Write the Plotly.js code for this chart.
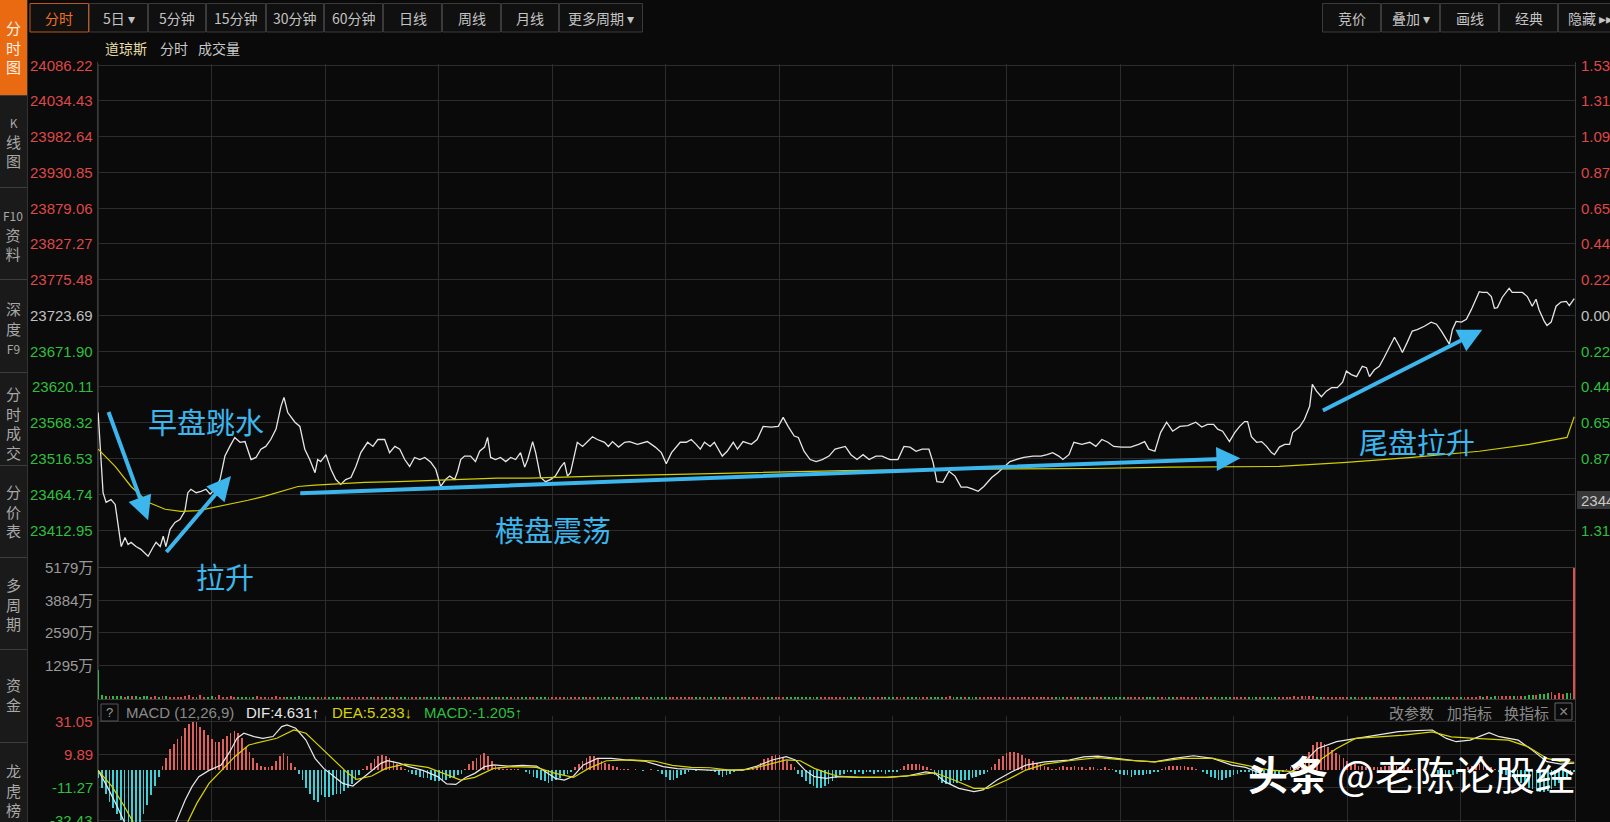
<!DOCTYPE html>
<html><head><meta charset="utf-8">
<script src="https://cdn.plot.ly/plotly-3.0.1.min.js"></script>
<style>html,body{margin:0;padding:0;background:#0a0a0a;overflow:hidden}#chart{width:1610px;height:822px}</style>
</head><body><div id="chart"></div>
<script>
// ---------------- DATA ----------------
const prevClose = 23723.69;
const priceTickText = ['24086.22','24034.43','23982.64','23930.85','23879.06','23827.27','23775.48','23723.69','23671.90','23620.11','23568.32','23516.53','23464.74','23412.95'];
const pctTickText = ['1.53','1.31','1.09','0.87','0.65','0.44','0.22','0.00','0.22','0.44','0.65','0.87','1.09','1.31'];
const volTickVals = [5179,3884,2590,1295];
const volTickText = ['5179万','3884万','2590万','1295万'];
const macdTickVals = [31.05,9.89,-11.27,-32.43];
const macdTickText = ['31.05','9.89','-11.27','-32.43'];
const timeGrid = [0,30,60,90,120,150,180,210,240,270,300,330,360,390];

// minutes after open / index price
const priceT = [0,1.3,2.1,3.4,4.5,5.3,6.1,7.1,7.9,8.7,
10,11.3,13.2,14.5,15.3,16.4,17.2,17.9,19,20.3,
21.6,22.9,23.7,24.5,25.9,27.2,28.5,29.6,30.9,32.2,
33.5,34.8,36.1,37.5,38.8,40.4,41.7,43,44.3,45.6,
47,48.3,49.1,50.1,52,53.3,54.6,55.9,57.3,58,
58.8,60.2,61.5,62.8,64.1,65.4,66.8,68.1,69.4,71.2,
72.6,73.9,75.7,77,78.4,79.7,81,82.3,83.6,85,
86.3,87.9,89.2,90.5,91.8,92.9,94.2,95,95.8,96.8,
98.4,99.7,100.8,102.1,102.9,103.7,105,106.3,107.7,109,
110.3,111.6,112.7,113.5,114.8,115.6,116.9,118.2,119.5,120.8,
122.2,123.2,124,124.8,125.9,126.6,128,129.3,130.6,131.9,
133.8,134.8,135.9,137.5,139.1,140.4,142.5,145.1,147.2,148.8,
150.1,151.5,153.8,155.4,156.7,158,159.1,160.2,161.7,162.8,
164.9,166.2,167.8,168.9,170.4,172.6,174.1,175.7,177.8,179.7,
181,182.3,183.9,185,186.5,188.1,189.7,191.3,193.1,194.7,
197.4,198.9,200.5,202.1,203.7,205.5,207.1,209.2,211.3,212.9,
214.5,216.1,217.7,219.5,220.6,221.6,223.2,224.8,226.4,228,
229.6,231.1,232.5,234,236.1,237.7,239.3,240.9,242.5,244.6,
247,249.1,250.7,252.2,253.8,254.9,256.5,257.8,259.9,262,
263.6,265.2,266.8,268.3,270.4,272.8,274.9,276.5,277.6,279.2,
280.7,282.3,283.9,285.8,287.9,290,291.6,293.1,294.7,295.8,
297.1,298.9,300.3,301.6,302.9,303.7,304.7,306.1,307.4,308.7,
310,310.8,312.1,313.5,314.8,315.6,317.4,318.7,320.1,320.8,
321.9,323.2,324.5,325.9,327.4,328.8,329.8,331.1,332.5,334,
335.1,335.9,337.2,338.5,339.8,341.2,342.5,343.8,344.6,345.9,
347.2,348.5,350.4,352.2,353.6,354.9,356.2,357,357.8,358.8,
360.2,361.5,362.8,364.1,364.9,365.7,367,368.1,368.9,369.7,
371,372.8,373.6,374.9,376.3,377.6,378.9,379.9,380.7,382.1,
382.8,383.9,385.2,386.5,387.9,388.7,390];
const priceV = [23583,23467,23453,23457,23450,23418,23389,23402,23392,23395,
23389,23385,23375,23388,23395,23389,23404,23389,23414,23424,
23428,23440,23467,23472,23467,23469,23472,23465,23472,23486,
23520,23534,23547,23540,23541,23515,23518,23530,23534,23544,
23559,23592,23605,23583,23569,23563,23530,23515,23496,23515,
23512,23522,23501,23486,23479,23486,23489,23505,23525,23540,
23534,23544,23544,23525,23534,23530,23515,23505,23518,23515,
23518,23511,23501,23476,23486,23491,23486,23498,23515,23520,
23520,23512,23527,23533,23547,23518,23515,23518,23512,23518,
23515,23525,23504,23515,23541,23525,23489,23483,23486,23491,
23504,23511,23491,23496,23525,23540,23534,23541,23548,23544,
23540,23534,23541,23533,23540,23541,23537,23541,23533,23525,
23509,23525,23540,23540,23544,23537,23530,23540,23534,23540,
23520,23527,23540,23530,23541,23537,23544,23563,23562,23563,
23576,23563,23549,23547,23527,23515,23512,23515,23520,23530,
23534,23522,23515,23522,23515,23520,23520,23515,23515,23534,
23533,23527,23530,23530,23511,23483,23482,23498,23491,23475,
23475,23472,23469,23476,23489,23496,23504,23512,23515,23518,
23520,23520,23522,23525,23520,23515,23522,23540,23537,23540,
23534,23544,23540,23534,23533,23533,23537,23541,23530,23527,
23554,23569,23556,23563,23564,23569,23562,23566,23566,23559,
23556,23541,23554,23563,23570,23570,23548,23540,23541,23534,
23525,23522,23533,23537,23537,23554,23562,23573,23592,23624,
23614,23606,23614,23619,23619,23627,23643,23638,23635,23650,
23648,23635,23645,23650,23663,23679,23692,23679,23670,23685,
23701,23703,23708,23714,23711,23701,23689,23682,23703,23715,
23714,23718,23732,23747,23758,23757,23757,23751,23734,23735,
23750,23763,23757,23757,23757,23751,23737,23747,23732,23715,
23709,23714,23737,23743,23744,23738,23748];

const avgT = [0,4.5,8.7,13.2,17.7,21.9,26.4,30.9,35.1,39.6,44.1,48.3,52.8,57.3,61.5,70.4,79.2,87.9,96.8,105.5,114.2,123.2,131.9,164.9,197.4,229.6,262,283.4,312.1,329.8,347.2,364.9,378.1,388.1,390];
const avgV = [23530,23505,23476,23453,23443,23440,23441,23446,23450,23456,23462,23469,23476,23478,23479,23482,23483,23485,23486,23488,23488,23489,23491,23495,23499,23501,23502,23504,23505,23511,23518,23527,23537,23547,23577];

// volume per minute (万)
const volume = [1140,150,120,110,130,100,120,90,110,100,
120,90,110,100,80,120,90,100,110,85,
95,90,80,100,150,90,80,170,90,80,
100,80,150,90,80,100,80,90,70,80,
90,70,120,80,70,90,80,100,70,80,
90,70,80,100,70,80,90,70,80,70,
80,70,90,70,80,70,60,80,70,90,
70,80,60,70,80,70,90,60,70,80,
70,60,80,70,60,70,80,60,70,60,
80,70,60,70,80,60,70,80,60,70,
70,60,80,70,60,70,60,80,70,60,
70,60,70,80,60,70,60,70,60,80,
60,70,60,70,80,60,70,60,70,60,
70,60,70,60,80,60,70,60,70,60,
60,70,60,70,60,70,60,80,60,70,
60,70,60,70,60,60,70,60,70,60,
70,60,60,70,60,70,60,70,60,60,
70,60,70,60,80,60,70,60,70,60,
80,70,60,70,60,70,60,70,60,70,
60,70,60,70,60,70,60,70,60,60,
70,60,70,60,60,70,60,70,60,60,
70,60,70,60,70,60,70,60,70,60,
70,80,60,70,60,130,60,70,60,70,
60,70,60,70,60,70,60,70,60,70,
60,70,60,70,60,70,60,70,60,70,
60,70,60,60,70,60,70,60,70,60,
70,60,70,60,70,60,60,70,60,70,
60,70,60,70,60,70,60,70,60,70,
70,60,70,60,70,60,70,60,70,60,
60,70,60,70,60,70,60,70,60,70,
70,60,70,60,70,60,70,80,70,80,
70,80,70,90,80,90,100,90,110,100,
120,100,90,80,90,80,70,80,70,80,
70,80,70,80,70,80,70,80,70,80,
80,70,80,70,80,70,80,70,80,70,
80,70,80,70,80,90,80,90,80,90,
90,80,90,80,90,100,90,100,90,100,
100,110,100,110,120,110,120,130,140,150,
160,180,200,220,280,140,230,210,220,250,
5150];

// MACD histogram per minute
const macdHist = [-5,-11,-15,-20,-24,-28,-32,-35,-37,-38,
-38,-34,-28,-22,-16,-10,-4,3,8,14,
17,20,22,27,30,31,31,28,26,23,
20,18,18,20,22,24,25,24,21,15,
12,8,5,3,2,2,3,6,9,11,
9,5,2,-2,-6,-11,-15,-19,-20,-16,
-17,-17,-16,-15,-15,-13,-11,-9,-6,-3,
1,3,5,7,9,10,9,8,6,4,
2,1,-1,-2,-3,-4,-5,-5,-6,-7,
-7,-6,-6,-5,-4,-3,-2,1,4,6,
8,10,11,9,6,3,2,1,1,1,
1,1,0.5,-1,-2,-4,-5,-6,-7,-8,
-7,-6,-5,-3,-2,-1,2,4,6,8,
9,9,8,6,5,4,3,2,1,1,
1,0.5,1,0.5,-0.5,0.5,1,0.5,-0.5,-2,
-4,-6,-6,-5,-3,-2,-1,0.5,-0.5,0.5,
0.5,-0.5,-0.5,-1,-3,-4,-3,-2,-1,0.5,
-0.5,0.5,0.5,1,3,5,7,8,9,10,
10,8,6,4,2,-2,-4,-7,-9,-10,
-11,-11,-10,-9,-7,-5,-3,-2,-1,-1,
-2,-1,-2,-1,-1,-2,-1,-1,-2,-1,
-1,-1,1,3,4,4,4,4,3,2,
1,-3,-6,-8,-9,-9,-8,-8,-7,-6,
-6,-5,-4,-3,-2,-1,2,4,7,9,
11,12,12,11,10,8,7,6,5,4,
3,2,1,1,2,3,2,2,3,2,
2,1,2,2,1,1,2,1,1,-1,
-2,-3,-3,-4,-3,-3,-3,-2,-2,-1,
-1,1,2,3,3,3,3,3,2,2,
1,0.5,-1,-2,-4,-5,-6,-6,-5,-4,
-3,-2,-1,-1,-1,-2,-3,-4,-4,-4,
-3,-3,-2,-1,1,2,3,4,6,8,
12,16,18,18,17,15,13,11,10,8,
6,5,4,3,3,2,2,2,2,2,
3,3,3,3,2,2,2,1,1,1,
1,1,0.5,-1,-2,-3,-4,-4,-3,-2,
-1,1,2,3,3,4,4,3,2,1,
-1,-2,-3,-4,-5,-7,-8,-9,-11,-12,
-13,-14,-14,-13,-12,-10,-8,-6,-4,-2.5,
-1.2];

const difT = [0,2.4,5,6.9,10,14,17.9,20.6,23,24.8,26.6,29.3,32.5,34.8,36.7,38.5,41.2,43.5,46.2,48.5,49.9,52.2,54.9,57.3,59.6,62.3,64.6,67.3,69.7,72.3,74.7,76.5,79.7,82.1,85.8,89.7,92.1,94.5,97.1,99.5,102.1,104.5,108.2,112.1,115.8,118.2,120.8,123.2,125.6,128.2,131.9,135.6,139.3,144.3,149.3,153,156.7,161.7,166.8,170.4,174.1,178.1,181.8,184.2,186.8,189.2,192.3,195.3,201.1,208.4,213.7,218.7,221.1,223.7,227.4,231.4,233.8,237.5,241.4,245.1,250.1,256.5,260.4,264.1,269.1,274.1,279.2,284.2,289.4,294.5,299.5,303.2,307.1,313.5,317.4,322.2,327.2,332.2,338.5,343.5,348.5,352.5,356.2,358.8,362.5,367.5,370.2,375.2,378.9,382.8,386.5,390];
const difV = [0,-10.4,-23,-33,-44,-47,-40,-33,-19,-10.4,-4,0,3.5,12,20.6,23.8,21.7,20.6,21.7,28.1,29.2,27,19.5,7.7,1.3,-4,-8.3,-10,-5.1,0,4.5,6.2,4.5,2.4,0,-4,-8.7,-9,-4.5,-1.9,2.4,3.5,2.8,3.2,2.8,-0.9,-5.1,-6.2,-3.6,3.5,7.7,7.7,6.7,6,2.4,1.1,0.6,0.2,0.2,0.2,2.8,6.7,8.8,6.7,0,-4,-5.1,-4,-4.5,-4.5,-3.6,-0.9,-1.9,-7.2,-11.5,-13.6,-12.5,-6.2,-0.9,3.4,5.5,6.6,8.7,9.2,7.7,6.2,5.5,7.7,9.4,7.7,3.4,1.9,-1.9,-3,2,14.1,18.4,20.5,22.7,24.8,25.5,25.9,20.5,18.4,19.4,24.2,21.6,19.4,13,5.6,4,4.631];
const deaT = [0,3.7,6.9,9.2,14,19.3,23.7,26.1,29.3,33,36.1,39.8,43.5,47.2,51.7,54.9,58.6,62.3,66,68.3,72.3,76,81,87.1,92.1,95.8,99.5,104.5,109.5,115.8,120.8,125.6,129.6,134.3,140.6,147,151.7,156.7,161.7,166.8,171.8,176.8,181.8,185.5,189.2,192.9,195.3,201.1,208.4,216.1,221.1,226.1,231.4,235.1,240.1,245.1,250.1,256.5,264.1,271.8,279.2,286.8,294.5,301.8,309.5,317.2,322.2,327.2,332.2,338.5,344.9,352.5,357.5,363.8,372.6,377.8,382.8,386.5,390];
const deaV = [0,-10.4,-23,-33,-42,-41,-33,-21,-8.3,1.3,8.8,16.3,18.4,20.6,26,23.8,15.2,6.7,-1.9,-5.8,-3.6,1.3,4,1.9,-3,-6.2,-4.5,1.3,2.4,1.9,-1.9,-4.5,1.3,6.2,6.7,6,3.2,1.9,1.7,0.2,0.6,3.5,6.7,6.2,1.3,-1.9,-3.6,-4.5,-4.5,-3,-1.5,-6.2,-11.5,-11.5,-6.2,0.2,4,6.2,8.2,6.6,5.5,7.7,7.7,4,0.2,-0.9,5.5,14.1,20.5,21.5,22.6,24.7,21.5,20.5,19.4,15.2,7.7,5.6,5.233];

// ---------------- STYLE / LAYOUT ----------------
const W = 1610, H = 822;
const PX = x => x / W, PY = y => 1 - y / H;
const RED = '#dd4848', GREEN = '#2fbf3f', GRAY = '#c0c0c0', BLUE = '#3cb6ec';
const NUMFONT = 'Liberation Sans, Arial, Noto Sans CJK SC, sans-serif';
const CJK = 'Noto Sans CJK SC, Liberation Sans, sans-serif';
const GRID = '#2c2c2c';

function priceAt(t) {
  if (t <= priceT[0]) return priceV[0];
  for (let i = 1; i < priceT.length; i++) {
    if (t <= priceT[i]) {
      const f = (t - priceT[i-1]) / (priceT[i] - priceT[i-1]);
      return priceV[i-1] + f * (priceV[i] - priceV[i-1]);
    }
  }
  return priceV[priceV.length - 1];
}
const minutes = volume.map((_, i) => i);
const volColor = volume.map((v, i) => {
  const before = i === 0 ? prevClose : priceAt(i - 1);
  return priceAt(i) >= before ? '#e04c4c' : '#2db84a';
});
const histX = macdHist.map((_, i) => i);
const histColor = macdHist.map(v => v >= 0 ? '#e0605c' : '#3fcfd6');

const traces = [
  {type:'scatter', mode:'lines', x:priceT, y:priceV, xaxis:'x', yaxis:'y', line:{color:'#e6e6e6', width:1.3}, hoverinfo:'skip'},
  {type:'scatter', mode:'lines', x:avgT, y:avgV, xaxis:'x', yaxis:'y', line:{color:'#d2ce00', width:1.2}, hoverinfo:'skip'},
  {type:'bar', x:minutes, y:volume, xaxis:'x2', yaxis:'y2', width:0.5, marker:{color:volColor, line:{width:0}}, hoverinfo:'skip'},
  {type:'bar', x:histX, y:macdHist, xaxis:'x3', yaxis:'y3', width:0.45, marker:{color:histColor, line:{width:0}}, hoverinfo:'skip'},
  {type:'scatter', mode:'lines', x:difT, y:difV, xaxis:'x3', yaxis:'y3', line:{color:'#e8e8e8', width:1.2}, hoverinfo:'skip'},
  {type:'scatter', mode:'lines', x:deaT, y:deaV, xaxis:'x3', yaxis:'y3', line:{color:'#d8d400', width:1.2}, hoverinfo:'skip'}
];

const xdom = [PX(97), PX(1575)];
const xBase = {domain:xdom, range:[-0.3, 390.2], tickvals:timeGrid, showticklabels:false, ticks:'', showgrid:true, gridcolor:GRID, gridwidth:1, zeroline:false, showline:false, fixedrange:true};
const priceVals = priceTickText.map(Number);

const annotations = [];
const shapes = [];

// left price labels and right percentage labels
priceTickText.forEach((t, i) => {
  const c = i < 7 ? RED : (i === 7 ? GRAY : GREEN);
  annotations.push({text:t, xref:'paper', yref:'y', x:PX(95), y:priceVals[i], xanchor:'right', yanchor:'middle', showarrow:false, font:{family:NUMFONT, size:15, color:c}});
  if (i !== 12) annotations.push({text:pctTickText[i], xref:'paper', yref:'y', x:PX(1579), y:priceVals[i], xanchor:'left', yanchor:'middle', showarrow:false, font:{family:NUMFONT, size:15, color:c}});
});
volTickVals.forEach((v, i) => {
  annotations.push({text:volTickText[i], xref:'paper', yref:'y2', x:PX(95), y:v, xanchor:'right', yanchor:'middle', showarrow:false, font:{family:NUMFONT, size:15, color:'#9a9a9a'}});
});
macdTickVals.forEach((v, i) => {
  annotations.push({text:macdTickText[i], xref:'paper', yref:'y3', x:PX(95), y:v, xanchor:'right', yanchor:'middle', showarrow:false, font:{family:NUMFONT, size:15, color: v > 0 ? RED : GREEN}});
});

// current price tag on right
shapes.push({type:'rect', xref:'paper', yref:'paper', x0:PX(1577), x1:PX(1610), y0:PY(509), y1:PY(491), fillcolor:'#383838', line:{width:0}});
annotations.push({text:'2344', xref:'paper', yref:'paper', x:PX(1579), y:PY(500), xanchor:'left', yanchor:'middle', showarrow:false, font:{family:NUMFONT, size:15, color:'#c8c8c8'}});

// frame lines
const lineShape = (x0,y0,x1,y1,c) => ({type:'line', xref:'paper', yref:'paper', x0:PX(x0), y0:PY(y0), x1:PX(x1), y1:PY(y1), line:{color:c||'#3a3a3a', width:1}});
shapes.push(lineShape(97.5,62,97.5,822));
shapes.push(lineShape(1575.5,62,1575.5,822));
shapes.push(lineShape(97,567.5,1575,567.5,'#3a3a3a'));
shapes.push(lineShape(97,699.5,1575,699.5,'#3a3a3a'));

// sidebar
shapes.push({type:'rect', xref:'paper', yref:'paper', x0:0, x1:PX(27), y0:0, y1:PY(95), fillcolor:'#1a1a1a', line:{width:0}});
shapes.push({type:'rect', xref:'paper', yref:'paper', x0:0, x1:PX(27), y0:PY(95), y1:1, fillcolor:'#ea6a12', line:{width:0}});
[95,187,279,372,465,557,649,742].forEach(y => shapes.push(lineShape(0,y+0.5,27,y+0.5,'#3c3c3c')));
shapes.push(lineShape(27.5,0,27.5,822,'#333333'));
const sideTabs = [
  {t:'分<br>时<br>图', y:47, c:'#fff1e4'},
  {t:'<span style="font-size:12px">K</span><br>线<br>图', y:143, c:'#a8a8a8'},
  {t:'<span style="font-size:12px">F10</span><br>资<br>料', y:236, c:'#a8a8a8'},
  {t:'深<br>度<br><span style="font-size:12px">F9</span>', y:328, c:'#a8a8a8'},
  {t:'分<br>时<br>成<br>交', y:423, c:'#a8a8a8'},
  {t:'分<br>价<br>表', y:511, c:'#a8a8a8'},
  {t:'多<br>周<br>期', y:604, c:'#a8a8a8'},
  {t:'资<br>金', y:694, c:'#a8a8a8'},
  {t:'龙<br>虎<br>榜', y:790, c:'#a8a8a8'}
];
sideTabs.forEach(s => annotations.push({text:s.t, xref:'paper', yref:'paper', x:PX(13.5), y:PY(s.y), xanchor:'center', yanchor:'middle', showarrow:false, align:'center', font:{family:CJK, size:15, color:s.c}}));

// top toolbar
const tb = [
  {t:'分时', x0:29.5, x1:89, sel:true},
  {t:'5日 ▾', x0:89, x1:148}, {t:'5分钟', x0:148, x1:206}, {t:'15分钟', x0:206, x1:266},
  {t:'30分钟', x0:266, x1:324}, {t:'60分钟', x0:324, x1:383}, {t:'日线', x0:383, x1:442},
  {t:'周线', x0:442, x1:501}, {t:'月线', x0:501, x1:559}, {t:'更多周期 ▾', x0:559, x1:643},
  {t:'竞价', x0:1322, x1:1381}, {t:'叠加 ▾', x0:1381, x1:1440}, {t:'画线', x0:1440, x1:1499},
  {t:'经典', x0:1499, x1:1558}, {t:'隐藏 ▸▸', x0:1558, x1:1640}
];
tb.forEach(b => {
  shapes.push({type:'rect', xref:'paper', yref:'paper', x0:PX(b.x0+0.5), x1:PX(Math.min(b.x1,1612)-0.5), y0:PY(32), y1:PY(3.5), fillcolor:'#101010', line:{color: b.sel ? '#c0561a' : '#3a3a3a', width:1}});
  const cx = b.x1 > 1610 ? 1566 : (b.x0 + b.x1) / 2;
  annotations.push({text:b.t, xref:'paper', yref:'paper', x:PX(cx), y:PY(18), xanchor: b.x1 > 1610 ? 'left' : 'center', yanchor:'middle', showarrow:false, font:{family:CJK, size:14, color: b.sel ? '#f07020' : '#c4c4c4'}});
});

// chart title row
annotations.push({text:'道琼斯', xref:'paper', yref:'paper', x:PX(103), y:PY(48), xanchor:'left', yanchor:'middle', showarrow:false, font:{family:CJK, size:14, color:'#e6dca6'}});
annotations.push({text:'分时', xref:'paper', yref:'paper', x:PX(158), y:PY(48), xanchor:'left', yanchor:'middle', showarrow:false, font:{family:CJK, size:14, color:'#c8c8c8'}});
annotations.push({text:'成交量', xref:'paper', yref:'paper', x:PX(196), y:PY(48), xanchor:'left', yanchor:'middle', showarrow:false, font:{family:CJK, size:14, color:'#c8c8c8'}});

// MACD header
shapes.push({type:'rect', xref:'paper', yref:'paper', x0:PX(101), x1:PX(118), y0:PY(721), y1:PY(704), fillcolor:'rgba(0,0,0,0)', line:{color:'#555', width:1}});
annotations.push({text:'?', xref:'paper', yref:'paper', x:PX(109.5), y:PY(712.5), xanchor:'center', yanchor:'middle', showarrow:false, font:{family:NUMFONT, size:13, color:'#9a9a9a'}});
const hdr = [
  {t:'MACD (12,26,9)', x:124, c:'#8a8a8a'},
  {t:'DIF:4.631↑', x:244, c:'#e8e8e8'},
  {t:'DEA:5.233↓', x:330, c:'#d8d400'},
  {t:'MACD:-1.205↑', x:422, c:'#2fbf3f'}
];
hdr.forEach(h => annotations.push({text:h.t, xref:'paper', yref:'paper', x:PX(h.x), y:PY(712), xanchor:'left', yanchor:'middle', showarrow:false, font:{family:NUMFONT, size:15, color:h.c}}));
[{t:'改参数', x:1387}, {t:'加指标', x:1445}, {t:'换指标', x:1502}].forEach(h => annotations.push({text:h.t, xref:'paper', yref:'paper', x:PX(h.x), y:PY(712), xanchor:'left', yanchor:'middle', showarrow:false, font:{family:CJK, size:15, color:'#8a8a8a'}}));
shapes.push({type:'rect', xref:'paper', yref:'paper', x0:PX(1555), x1:PX(1572), y0:PY(720), y1:PY(703), fillcolor:'rgba(0,0,0,0)', line:{color:'#666', width:1}});
annotations.push({text:'×', xref:'paper', yref:'paper', x:PX(1563.5), y:PY(711.5), xanchor:'center', yanchor:'middle', showarrow:false, font:{family:NUMFONT, size:16, color:'#8a8a8a'}});

// blue commentary arrows (tip x,y ; tail ax,ay) in data coordinates
const arrows = [
  {x:13.2, y:23427, ax:2.6, ay:23586},
  {x:35.1, y:23491, ax:17.7, ay:23379},
  {x:301.8, y:23517, ax:53.0, ay:23466},
  {x:365.7, y:23703, ax:323.2, ay:23585}
];
arrows.forEach(a => annotations.push({text:'', xref:'x', yref:'y', axref:'x', ayref:'y', x:a.x, y:a.y, ax:a.ax, ay:a.ay, showarrow:true, arrowhead:2, arrowsize:1.2, arrowwidth:4, arrowcolor:BLUE, standoff:0}));
const notes = [
  {t:'早盘跳水', x:206, y:421},
  {t:'拉升', x:225, y:576},
  {t:'横盘震荡', x:553, y:529},
  {t:'尾盘拉升', x:1417, y:441}
];
notes.forEach(n => annotations.push({text:n.t, xref:'paper', yref:'paper', x:PX(n.x), y:PY(n.y), xanchor:'center', yanchor:'middle', showarrow:false, font:{family:CJK, size:29, color:BLUE}}));

// watermark
annotations.push({text:'<b>头条</b> @老陈论股经', xref:'paper', yref:'paper', x:PX(1246), y:PY(773), xanchor:'left', yanchor:'middle', showarrow:false, font:{family:CJK, size:40, color:'#ffffff'}});

const layout = {
  width:W, height:H, margin:{l:0, r:0, t:0, b:0},
  paper_bgcolor:'#0a0a0a', plot_bgcolor:'#0a0a0a', showlegend:false, bargap:0,
  font:{family:NUMFONT, color:'#c0c0c0'},
  xaxis: Object.assign({}, xBase, {anchor:'y'}),
  xaxis2: Object.assign({}, xBase, {anchor:'y2', matches:'x'}),
  xaxis3: Object.assign({}, xBase, {anchor:'y3', matches:'x'}),
  yaxis: {domain:[PY(567), PY(64)], range:[23359.4, 24087.7], tickvals:priceVals, showticklabels:false, ticks:'', showgrid:true, gridcolor:GRID, zeroline:false, fixedrange:true, anchor:'x'},
  yaxis2: {domain:[PY(699), PY(567)], range:[0, 5179], tickvals:volTickVals, showticklabels:false, ticks:'', showgrid:true, gridcolor:GRID, zeroline:false, fixedrange:true, anchor:'x2'},
  yaxis3: {domain:[0, PY(716)], range:[-33.09, 34.88], tickvals:macdTickVals, showticklabels:false, ticks:'', showgrid:true, gridcolor:GRID, zeroline:false, fixedrange:true, anchor:'x3'},
  shapes: shapes,
  annotations: annotations
};

Plotly.newPlot('chart', traces, layout, {displayModeBar:false, staticPlot:true});
</script>
</body></html>
